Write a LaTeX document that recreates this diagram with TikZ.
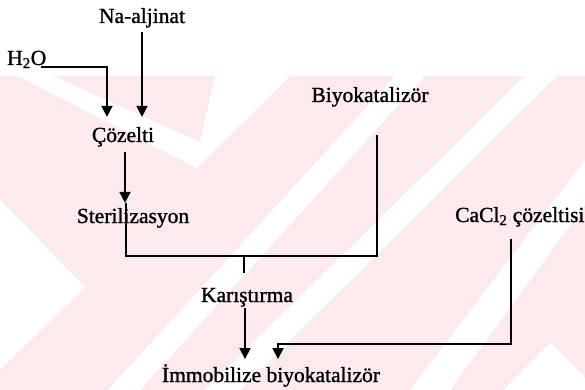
\documentclass[tikz,border=0pt]{standalone}
\usepackage{fontspec}
\setmainfont[FakeBold=1.2]{Liberation Serif}
\usetikzlibrary{arrows.meta,positioning}

\definecolor{wmpink}{RGB}{252,234,237}

\begin{document}
\begin{tikzpicture}[x=1pt,y=-1pt,>={Triangle[length=11pt,width=11pt]},
  stage/.style={inner sep=0pt,font=\fontsize{21.5}{26}\selectfont},
  flow/.style={->,line width=1.7pt},
  pipe/.style={line width=1.5pt}]

\useasboundingbox (0,0) rectangle (585,390);

% background chevrons
\fill[wmpink] (0,76) rectangle (585,390);
\fill[white] (18,76) -- (53,76) -- (200,142) -- (215,76) -- (290,76) -- (197,168) -- cycle;
\fill[white] (0,200) -- (85,287) -- (0,370) -- cycle;
\fill[white] (395,76) -- (425,76) -- (140,390) -- (108,390) -- cycle;
\fill[white] (525,76) -- (557,76) -- (240,390) -- (205,390) -- cycle;
\fill[white] (585,160) -- (585,205) -- (450,390) -- (410,390) -- cycle;
\fill[white] (503,390) -- (550,343) -- (597,390) -- cycle;

% steps
\node[stage,anchor=base]      (naalj) at (142,23)  {Na-aljinat};
\node[stage,anchor=base west] (water) at (7,65)    {H\textsubscript{2}O};
\node[stage,anchor=base]      (coz)   at (123,142) {Çözelti};
\node[stage,anchor=base]      (ster)  at (133,223) {Sterilizasyon};
\node[stage,anchor=base]      (bio)   at (370,102) {Biyokatalizör};
\node[stage,anchor=base west] (cacl)  at (455,222) {CaCl\textsubscript{2} çözeltisi};
\node[stage,anchor=base]      (mix)   at (247,302) {Karıştırma};
\node[stage,anchor=base]      (imm)   at (271,382) {İmmobilize biyokatalizör};

\coordinate (mixj) at (244,256);

% flows
\draw[flow] ([yshift=-4pt]naalj.south) -- ([yshift=10pt]coz.north -| naalj);
\draw[flow] ([shift={(-5pt,-2pt)}]water.base east) -| ([shift={(-16pt,10pt)}]coz.north);
\draw[flow] ([shift={(2pt,-5pt)}]coz.south) -- ([shift={(-8pt,5pt)}]ster.north);
\draw[pipe] ([shift={(-7pt,5pt)}]ster.north) |- (mixj) -| ([shift={(7pt,-28pt)}]bio.south);
\draw[pipe] (mixj) -- ([yshift=15pt]mix.north -| mixj);
\draw[flow] ([shift={(-2pt,-1.5pt)}]mix.south) -- ([shift={(-26pt,5pt)}]imm.north);
\draw[flow] ([shift={(56pt,-12pt)}]cacl.south west) -- ++(0,105) -| ([shift={(7pt,5pt)}]imm.north);

\end{tikzpicture}
\end{document}
